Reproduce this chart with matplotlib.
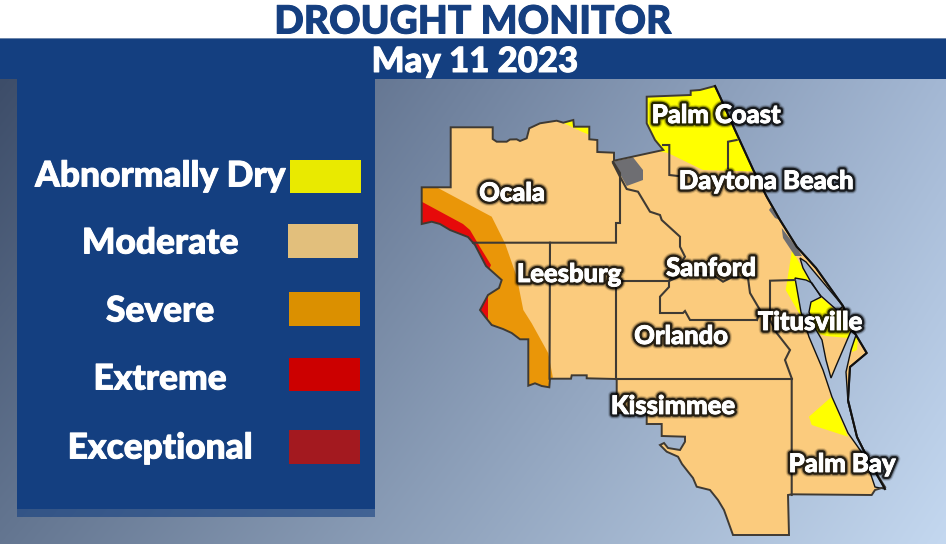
import numpy as np
import matplotlib
matplotlib.use('Agg')
import matplotlib.pyplot as plt
from matplotlib.patches import Polygon, Rectangle
from matplotlib.colors import to_rgb
import matplotlib.patheffects as pe

plt.rcParams['font.family'] = ['Lato', 'Open Sans', 'DejaVu Sans']

legend_names = ['Abnormally Dry', 'Moderate', 'Severe', 'Extreme', 'Exceptional']
legend_colors = ['#e9ea00', '#e2bf7c', '#db9000', '#cc0000', '#a3191f']
legend_text_y = [176.5, 243.5, 311.5, 379.5, 448.5]
legend_boxes = [(290, 160, 71, 33), (288, 224, 70, 34), (289, 292, 71, 34), (289, 358, 71, 33), (289, 430, 71, 34)]

city_names = ['Palm Coast', 'Ocala', 'Daytona Beach', 'Leesburg', 'Sanford', 'Titusville', 'Orlando', 'Kissimmee', 'Palm Bay']
city_x = [716, 512, 766, 569, 711, 810, 681, 673, 842]
city_y = [115, 193, 181, 274, 268, 322, 336, 406, 464]

# map shapes in pixels
land = [(450.7, 127.3), (492.7, 127.3), (492.7, 139), (496.7, 141.7), (506.7, 141.7), (510, 139.5), (516.7, 139.3), (520, 141),
        (526.7, 138.3), (529.3, 128.3), (540, 123.3), (556.7, 120.7), (563.3, 122.7), (573.3, 120), (574, 126.7), (589.3, 126.7),
        (589.3, 139.3), (597.3, 140), (597.3, 152), (614, 152.7), (614, 160.7), (663.3, 150), (655, 140),
        (646.7, 123.3), (646.7, 96.7), (690.7, 95), (690.7, 90.7), (700, 90), (715, 86), (720, 96.7), (735, 130),
        (753.3, 170), (766.7, 196.7), (780, 220), (796.7, 246.7), (816, 268), (843, 306), (853, 330), (866.7, 353),
        (850, 367), (848, 400), (857, 437), (870, 463), (885, 487), (875, 490), (871.7, 495), (791.7, 494.3),
        (788, 495), (789, 535), (733, 535), (730, 526.7), (724, 510), (718, 500), (710, 490), (696.7, 486.7), (693, 478), (688, 471.7),
        (682, 464), (678, 456.7), (666.7, 451.7), (660, 445), (664, 443), (668, 448), (680, 450), (685, 441.7), (685, 436.7),
        (661.7, 436), (661.7, 424), (646.7, 424), (646.7, 413), (616.7, 413), (616.7, 379), (586.7, 378.3),
        (586.7, 375.3), (571.7, 375.3), (571, 378.7), (550, 378.7), (549.3, 387.3), (541.7, 386), (535, 383.3),
        (528.3, 385.7), (528.3, 339.3), (520, 339.3), (511.7, 333), (503, 329), (491.7, 325), (485, 316.7), (480, 310),
        (488, 295), (499, 288), (501.7, 280), (486, 266), (475, 245), (468, 237), (450, 230), (440, 224), (431.7, 221.7),
        (421.7, 224), (421.7, 187.3), (450.7, 187.3)]
east_coast = [(715, 86), (720, 96.7), (735, 130), (753.3, 170), (766.7, 196.7), (780, 220), (796.7, 246.7), (816, 268),
              (843, 306), (853, 330), (866.7, 353), (850, 367), (848, 400), (857, 437), (870, 463), (885, 489)]
severe = [(415, 187), (436.7, 187.3), (491.7, 216.7), (505, 243.3), (516.7, 276.7), (523.3, 310), (531.7, 323.3),
          (548.3, 353.3), (552.7, 376.7), (551, 395), (470, 395), (410, 240)]
extreme_a = [(415, 198), (421.7, 201.7), (463, 224), (470, 230), (480, 247), (491, 265), (488, 272), (470, 270), (415, 235)]
extreme_b = [(488.3, 292), (488.3, 325), (470, 325), (470, 292)]
yellow_north = [(640, 85), (730, 80), (762, 171.7), (703, 170), (668, 153), (650, 150)]
yellow_marion = [(563, 122.7), (575, 115), (575, 126), (590, 126), (590, 135), (581.7, 131.7)]
yellow_west = [(792, 250), (811, 283), (803, 320), (785.7, 290)]
yellow_merritt = [(811, 302), (822, 298), (835, 310), (851, 332), (848, 338), (826, 336), (808, 330)]
yellow_cape = [(853, 333), (858, 336), (857, 350), (852, 352)]
yellow_south = [(831.7, 396.7), (809, 416.7), (811.7, 425), (848, 436.7)]
yellow_barrier = [(848, 403), (852, 410), (858, 438), (855, 437), (848, 418)]
gray_main = [(613, 161.7), (633, 157.3), (643, 170), (643, 180), (626.7, 186)]
gray_coast_a = [(771, 207), (780, 220), (775, 218), (769, 210)]
gray_coast_b = [(781.7, 228), (797, 248), (802, 256), (795, 256), (783, 238)]

lagoon_main = [(795, 278), (801, 312), (809, 337), (823, 370), (832, 397), (848, 433), (865, 457), (875, 487), (885, 489),
               (870, 462), (857, 437), (848, 402), (846, 372), (851, 350), (856, 335), (851, 331), (836, 366), (831, 378),
               (826, 360), (822, 340), (815, 328), (809, 312), (811, 302), (821, 297), (812, 283), (806, 280)]
lagoon_north = [(800, 258), (806, 262), (816, 274), (843, 306), (838, 311), (821, 296), (812, 284), (803, 268)]

county_lines = [
    [(473, 242.7), (616, 242.7), (616, 223), (620, 223), (620, 173), (613, 161.7)],
    [(550, 242.7), (549.5, 378.7)],
    [(616, 281.7), (616, 379)],
    [(616, 281), (669, 281), (669, 287), (660, 296.7), (660, 313), (683, 313), (685, 311), (690, 320), (757, 320)],
    [(613, 163), (620, 176.7), (626.7, 189), (638, 191.7), (650, 211.7), (660, 215), (661.7, 220), (680, 236.7),
     (680, 246.7), (685, 256.7), (669, 281)],
    [(669, 281), (690, 272), (713, 275), (723, 281.7), (733, 276.7), (748, 278), (750, 293), (760, 310), (757, 320)],
    [(795, 280), (770, 280.7), (770, 320), (776.7, 333), (790, 350), (785, 360), (791.7, 378.3), (791.7, 495)],
    [(616.7, 379), (791.7, 379)],
    [(663, 145), (669.3, 145), (669.3, 175), (678, 176)],
    [(736.7, 140), (728, 141.7), (728, 168)],
]

LAND = '#fbcb7d'
DARK = '#3f3a33'


def gradient(w, h):
    # four corner colours of the backdrop
    tl, tr, bl, br = [np.array(to_rgb(c)) for c in ('#3d4d69', '#a4b8d4', '#647691', '#c4d8f0')]
    u, v = np.meshgrid(np.linspace(0, 1, w), np.linspace(0, 1, h))
    u = u[..., None]
    v = v[..., None]
    return (1 - v) * ((1 - u) * tl + u * tr) + v * ((1 - u) * bl + u * br)


def glow(size):
    return [pe.withStroke(linewidth=size + 3, foreground='black', alpha=0.12),
            pe.withStroke(linewidth=size + 1.5, foreground='black', alpha=0.3),
            pe.withStroke(linewidth=size, foreground='black', alpha=0.75),
            pe.withStroke(linewidth=0.6, foreground='white')]


def thick(color):
    return [pe.withStroke(linewidth=0.7, foreground=color)]


fig = plt.figure(figsize=(9.46, 5.44), dpi=100, facecolor='white')
ax = fig.add_axes([0, 0, 1, 1])
ax.set_xlim(0, 946)
ax.set_ylim(544, 0)
ax.axis('off')

bg = gradient(946, 465)
ax.imshow(bg, extent=(0, 946, 544, 79), aspect='auto', zorder=1)
ax.set_xlim(0, 946)
ax.set_ylim(544, 0)

ax.add_patch(Rectangle((0, 39), 946, 40, color='#143f80', lw=0, zorder=2))
ax.add_patch(Rectangle((0, 38), 946, 1.2, color='#6d86ab', lw=0, zorder=2))
ax.add_patch(Rectangle((17, 79), 358, 430, color='#143f80', lw=0, zorder=2))
ax.add_patch(Rectangle((17, 509), 358, 8, color='#143f80', alpha=0.6, lw=0, zorder=2))

ax.text(473, 22, 'DROUGHT MONITOR', color='#153f80', fontsize=28, fontweight='black', ha='center', va='center', zorder=6,
        path_effects=thick('#153f80'))
ax.text(475, 62, 'May 11 2023', color='white', fontsize=25, fontweight='black', ha='center', va='center', zorder=6,
        path_effects=thick('white'))

for name, color, ty, box in zip(legend_names, legend_colors, legend_text_y, legend_boxes):
    ax.text(160, ty, name, color='white', fontsize=25.4, fontweight='black', ha='center', va='center', zorder=6,
            path_effects=thick('white'))
    ax.add_patch(Rectangle(box[:2], box[2], box[3], color=color, lw=0, zorder=5))

land_patch = Polygon(land, closed=True, facecolor=LAND, edgecolor='none', zorder=3)
ax.add_patch(land_patch)

fills = [(severe, '#ea9608'), (extreme_a, '#e60a0a'), (extreme_b, '#e60a0a'), (yellow_north, '#ffff00'),
         (yellow_marion, '#ffff00'), (yellow_west, '#ffff00'), (yellow_merritt, '#ffff00'), (yellow_cape, '#ffff00'),
         (yellow_south, '#ffff00'), (yellow_barrier, '#ffff00'), (gray_main, '#6e6e72'), (gray_coast_a, '#6e6e72'),
         (gray_coast_b, '#6e6e72')]
for shape, color in fills:
    p = Polygon(shape, closed=True, facecolor=color, edgecolor='none', zorder=3.1)
    ax.add_patch(p)
    p.set_clip_path(land_patch)

# water inside the land, same backdrop showing through
for shape in (lagoon_main, lagoon_north):
    water = ax.imshow(bg, extent=(0, 946, 544, 79), aspect='auto', zorder=3.2)
    p = Polygon(shape, closed=True, facecolor='none', edgecolor='#111111', lw=1.0, zorder=3.3)
    ax.add_patch(p)
    water.set_clip_path(p)
ax.set_xlim(0, 946)
ax.set_ylim(544, 0)

ax.add_patch(Polygon(land, closed=True, facecolor='none', edgecolor=DARK, lw=1.4, zorder=3.4))
for line in county_lines:
    xs, ys = zip(*line)
    ax.plot(xs, ys, color=DARK, lw=1.5, solid_joinstyle='miter', zorder=3.5)
ax.plot(*zip(*east_coast), color='#111111', lw=1.5, zorder=3.6)

for name, x, y in zip(city_names, city_x, city_y):
    ax.text(x, y, name, color='white', fontsize=18.4, fontweight='black', ha='center', va='center', zorder=7,
            path_effects=glow(4))

fig.savefig('out.png', dpi=100)
